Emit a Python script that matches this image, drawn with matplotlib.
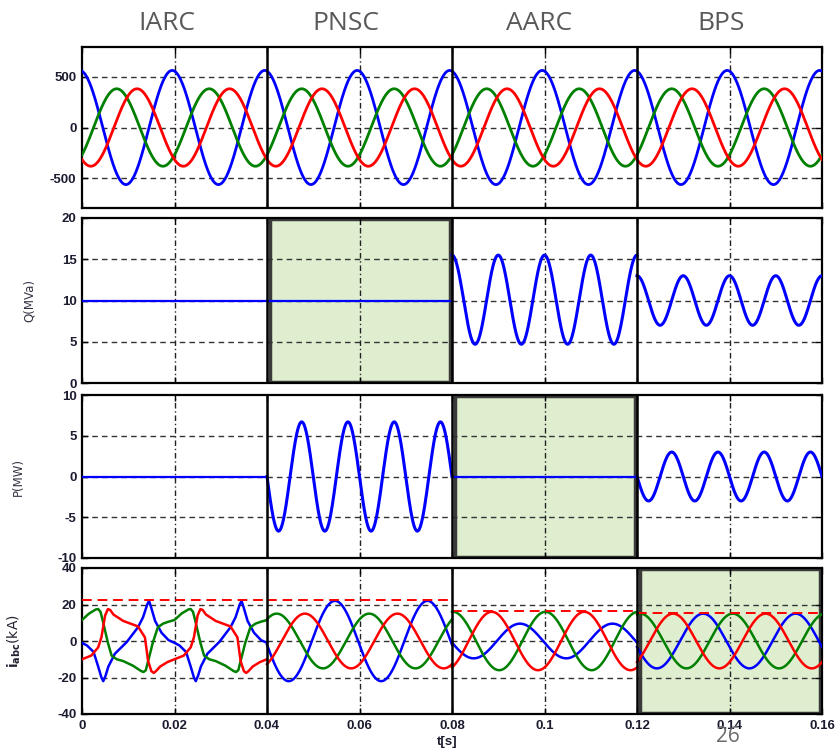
import numpy as np
import matplotlib
matplotlib.use('Agg')
import matplotlib.pyplot as plt

# ---- data ----
seg_edges = [0.0, 0.04, 0.08, 0.12, 0.16]
seg_names = ['IARC', 'PNSC', 'AARC', 'BPS']
x_ticks = [0, 0.02, 0.04, 0.06, 0.08, 0.10, 0.12, 0.14, 0.16]
x_ticklabels = ['0', '0.02', '0.04', '0.06', '0.08', '0.1', '0.12', '0.14', '0.16']

# voltages (50 Hz), order blue, green, red
v_amp = [560, 380, 380]
v_peak_t = [-0.0005, 0.0075, 0.0119]

# reactive power Q per segment (100 Hz ripple)
q_mean = [10.0, 10.0, 10.1, 10.0]
q_amp = [0.0, 0.0, 5.4, 3.0]

# active power P per segment (100 Hz ripple, starts downwards)
p_amp = [0.0, 6.7, 0.0, 3.0]

# currents in PNSC / AARC / BPS (50 Hz): amplitude and time of a peak
i_amp_blue = [22, 9.5, 15]
i_peak_blue = [0.0547, 0.0947, 0.1343]
i_amp_green = [15, 16, 15]
i_peak_green = [0.0421, 0.0802, 0.1207]
i_amp_red = [15, 16, 15]
i_peak_red = [0.0482, 0.0886, 0.1278]
i_limit = [22.5, 22.5, 16.4, 15.5]   # red dashed peak lines

# distorted IARC currents, one 20 ms period (read point by point)
iarc_blue_t = [0, 0.0011, 0.0025, 0.0035, 0.0042, 0.0046, 0.0051, 0.0057, 0.0071, 0.0097,
               0.0121, 0.0132, 0.0141, 0.0145, 0.0150, 0.0158, 0.0172, 0.0187, 0.02]
iarc_blue_v = [-1, -2.5, -6, -14, -20, -22, -19, -14, -7, -0.5,
               7.5, 13, 20, 22, 18, 11, 4.5, 0.5, -1]
iarc_green_t = [0, 0.0015, 0.0030, 0.0035, 0.0040, 0.0045, 0.0056, 0.0064, 0.0075, 0.0089,
                0.011, 0.0128, 0.0133, 0.0138, 0.0143, 0.0153, 0.0164, 0.0175, 0.0186, 0.02]
iarc_green_v = [11.5, 15, 17.3, 17.5, 16, 11, -1, -8, -10, -11,
                -13.5, -16.5, -17, -16, -11, -1, 7.5, 9.5, 10.5, 11.5]
iarc_red_t = [0, 0.002, 0.0035, 0.0042, 0.0050, 0.0056, 0.0061, 0.0068, 0.0089, 0.0121,
              0.0136, 0.0143, 0.0150, 0.0155, 0.0160, 0.0169, 0.0185, 0.02]
iarc_red_v = [-10, -8, -3.5, 2, 14, 17.5, 17, 14.5, 11, 8,
              2, -11, -16.5, -17.5, -16.5, -14, -11.5, -10]

c_blue = '#0000ff'
c_green = '#008000'
c_red = '#ff0000'
tick_color = '#1c1c30'

fig = plt.figure(figsize=(8.4, 7.49), dpi=100)
L, W = 82 / 840, 740 / 840
boxes = [(47, 208), (218, 383), (395, 558), (568, 714)]
axs = []
for top, bot in boxes:
    axs.append(fig.add_axes([L, 1 - bot / 749, W, (bot - top) / 749]))

ylims = [(-790, 790), (0, 20), (-10, 10), (-40, 40)]
yticks = [[-500, 0, 500], [0, 5, 10, 15, 20], [-10, -5, 0, 5, 10], [-40, -20, 0, 20, 40]]

for k, ax in enumerate(axs):
    ax.set_xlim(0, 0.16)
    ax.set_ylim(*ylims[k])
    ax.set_xticks(x_ticks)
    ax.set_yticks(yticks[k])
    ax.set_yticklabels([str(v) for v in yticks[k]], fontsize=9.5,
                       fontweight='bold', color=tick_color, family='Liberation Sans')
    if k == 3:
        ax.set_xticklabels(x_ticklabels, fontsize=9.5, fontweight='bold',
                           color=tick_color, family='Liberation Sans')
    else:
        ax.set_xticklabels([])
    ax.tick_params(direction='in', top=True, right=True, length=4, width=1,
                   pad=4)
    for s in ax.spines.values():
        s.set_linewidth(1.6)
    # grid: dashed horizontal, dash-dot vertical
    for yv in yticks[k]:
        if ylims[k][0] < yv < ylims[k][1]:
            ax.axhline(yv, color='#333333', lw=1.0, ls=(0, (4, 3)), zorder=1)
    for xv in [0.02, 0.06, 0.10, 0.14]:
        ax.axvline(xv, color='#222222', lw=1.0, ls=(0, (4, 2, 1, 2)), zorder=1)
    for xv in seg_edges[1:-1]:
        ax.axvline(xv, color='black', lw=1.8, zorder=4)

# shaded (active method) boxes
for ax, seg in [(axs[1], 1), (axs[2], 2), (axs[3], 3)]:
    ax.axvspan(seg_edges[seg] + 0.0006, seg_edges[seg + 1] - 0.0004, ymin=0.005, ymax=0.995,
               facecolor='#e0eed0', edgecolor='#3a3a3a', lw=2.5, zorder=0)

t_all = np.linspace(0, 0.16, 3201)
w50 = 2 * np.pi * 50
w100 = 2 * np.pi * 100

# panel 1: voltages
for amp, tp, col in zip(v_amp, v_peak_t, [c_blue, c_green, c_red]):
    axs[0].plot(t_all, amp * np.cos(w50 * (t_all - tp)), color=col, lw=2.0, zorder=3)

# panels 2 and 3: Q and P per segment
for s in range(4):
    ts = np.linspace(seg_edges[s], seg_edges[s + 1], 801)
    q = q_mean[s] + q_amp[s] * np.cos(w100 * (ts - seg_edges[s]))
    p = -p_amp[s] * np.sin(w100 * (ts - seg_edges[s]))
    lwq = 2.2 if q_amp[s] > 0 else 1.6
    lwp = 2.2 if p_amp[s] > 0 else 1.6
    axs[1].plot(ts, q, color=c_blue, lw=lwq, zorder=3)
    axs[2].plot(ts, p, color=c_blue, lw=lwp, zorder=3)

# panel 4: currents
ax = axs[3]
for tt, vv, col in [(iarc_blue_t, iarc_blue_v, c_blue),
                    (iarc_green_t, iarc_green_v, c_green),
                    (iarc_red_t, iarc_red_v, c_red)]:
    tt = np.array(tt)
    ax.plot(np.concatenate([tt, tt[1:] + 0.02]), list(vv) + list(vv[1:]),
            color=col, lw=1.8, zorder=3, solid_joinstyle='round')
for s in range(1, 4):
    ts = np.linspace(seg_edges[s], seg_edges[s + 1], 801)
    for amp, tp, col in [(i_amp_blue[s - 1], i_peak_blue[s - 1], c_blue),
                         (i_amp_green[s - 1], i_peak_green[s - 1], c_green),
                         (i_amp_red[s - 1], i_peak_red[s - 1], c_red)]:
        ax.plot(ts, amp * np.cos(w50 * (ts - tp)), color=col, lw=1.8, zorder=3)
for s in range(4):
    ax.plot([seg_edges[s], seg_edges[s + 1]], [i_limit[s], i_limit[s]],
            color=c_red, lw=1.4, ls=(0, (5, 3)), zorder=3)

# axis labels
axs[1].set_ylabel('Q(MVa)', fontsize=8.5, color='#333344')
axs[1].yaxis.set_label_coords(-0.062, 0.5)
axs[2].set_ylabel('P(MW)', fontsize=8.5, color='#333344')
axs[2].yaxis.set_label_coords(-0.077, 0.5)
axs[3].set_ylabel(r'$\mathbf{i_{abc}}$(kA)', fontsize=10, color='#222233')
axs[3].yaxis.set_label_coords(-0.08, 0.5)
fig.text(447 / 840, 1 - 742 / 749, 't[s]', ha='center', va='center', fontsize=9.5,
         fontweight='bold', color=tick_color, family='Liberation Sans')

# section titles
title_x = [167, 346, 539, 721]
for name, xp in zip(seg_names, title_x):
    fig.text(xp / 840, 1 - 24 / 749, name, ha='center', va='center', fontsize=19,
             color='#595959', family='Open Sans')

fig.text(728 / 840, 1 - 737 / 749, '26', ha='center', va='center', fontsize=15,
         color='#6a6a6a', family='Open Sans')

fig.savefig('out.png', dpi=100)
